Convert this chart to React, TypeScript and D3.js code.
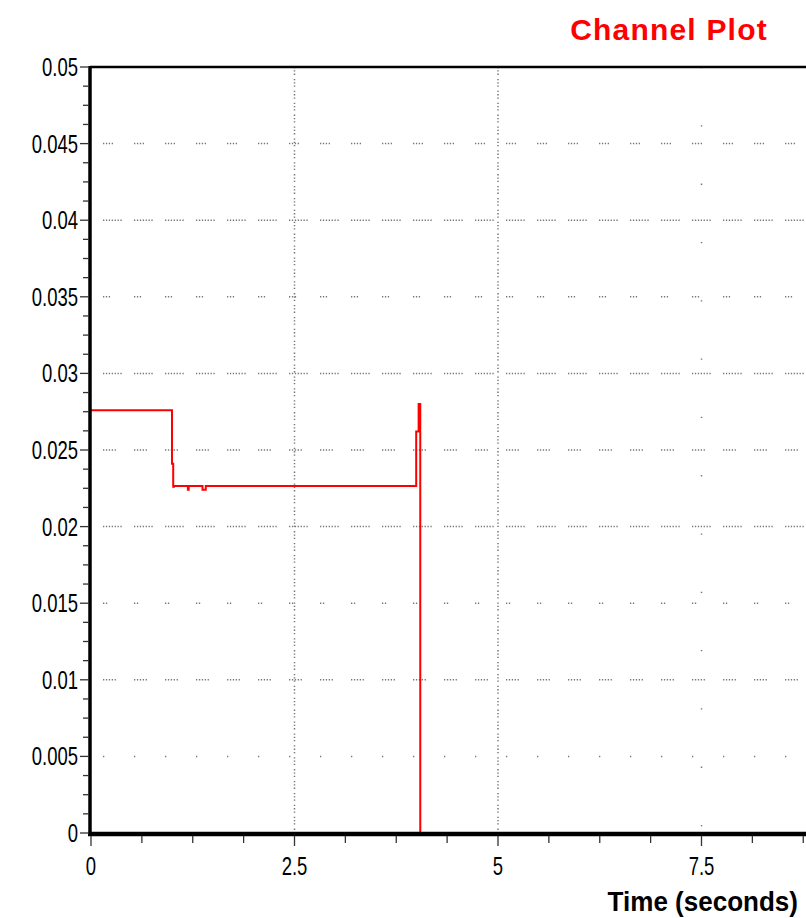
import React from 'react';
import * as d3 from 'd3';

// channel trace (step shaped)
const timeSec = [0, 0.995, 0.995, 1.01, 1.01, 1.02, 1.02, 1.19, 1.19, 1.2, 1.2, 1.37, 1.37, 1.41, 1.41, 3.995, 3.995, 4.025, 4.025, 4.045, 4.045];
const channelVal = [0.0276, 0.0276, 0.0241, 0.0241, 0.0226, 0.0226, 0.02265, 0.02265, 0.0224, 0.0224, 0.02265, 0.02265, 0.0224, 0.0224, 0.02265, 0.02265, 0.0262, 0.0262, 0.028, 0.028, 0];

const yTicks = [0, 0.005, 0.01, 0.015, 0.02, 0.025, 0.03, 0.035, 0.04, 0.045, 0.05];
const yTickLabels = ['0', '0.005', '0.01', '0.015', '0.02', '0.025', '0.03', '0.035', '0.04', '0.045', '0.05'];
const xTicks = [0, 2.5, 5, 7.5];
const xTickLabels = ['0', '2.5', '5', '7.5'];
// dots per dash group on each horizontal grid line (the scaled-up dotted pen)
const gridDots = [0, 1, 5, 2, 7, 5, 7, 3, 7, 4, 0];

const W = 806;
const H = 918;

const dotDash = (n: number, period = 31) => {
  const parts: number[] = [];
  for (let i = 0; i < n; i++) {
    parts.push(1.3);
    parts.push(i < n - 1 ? 1.6 : period - n * 1.3 - (n - 1) * 1.6);
  }
  return parts.join(',');
};

const font = '"Liberation Sans", Arial, sans-serif';

// narrow text: the original face is a condensed sans
const NarrowText = ({ x, y, anchor, size, weight = 'normal', sx = 0.82, children }:
  { x: number; y: number; anchor: string; size: number; weight?: string; sx?: number; children: React.ReactNode }) => (
  <text transform={`translate(${x},${y}) scale(${sx},1)`} textAnchor={anchor} fill="#000"
    style={{ font: `${weight} ${size}px ${font}` }}>{children}</text>
);

const App = () => {
  const x = d3.scaleLinear().domain([0, 10]).range([91, 905]);
  const y = d3.scaleLinear().domain([0, 0.05]).range([833, 67]);

  const line = d3.line<number>()
    .x((_, i) => x(timeSec[i]))
    .y(d => y(d));

  const yMinor = d3.range(0, 0.05 + 1e-9, 0.00125).filter((_, i) => i % 4 !== 0);
  const xMinor = d3.range(0, 10.001, 0.625).filter((_, i) => i % 4 !== 0);

  return (
    <div style={{ position: 'absolute', left: 0, top: 0 }}>
      <svg width={W} height={H} style={{ display: 'block', background: '#fff' }}>
        <text x={669} y={40} textAnchor="middle" fill="#ff0000" letterSpacing={1.2}
          style={{ font: 'bold 30px "Liberation Sans", Arial, sans-serif' }}>Channel Plot</text>

        {/* horizontal grid */}
        {yTicks.map((t, i) => (gridDots[i] > 0 ?
          <line key={'hg' + i} x1={x(0) + 12} x2={W} y1={y(t)} y2={y(t)}
            stroke="#777" strokeWidth={1.5} strokeDasharray={dotDash(gridDots[i])} /> : null))}

        {/* vertical grid */}
        {xTicks.slice(1).map((t, i) => (
          <line key={'vg' + i} x1={x(t)} x2={x(t)} y1={y(0.05)} y2={y(0)}
            stroke="#777" strokeWidth={1.5}
            strokeDasharray={t === 7.5 ? '1.3,57' : '1.3,2,1.3,2,1.3,4'} />
        ))}

        {/* trace */}
        <path d={line(channelVal) || ''} fill="none" stroke="#ff0000" strokeWidth={2} />

        {/* frame */}
        <line x1={x(0) - 1} x2={W} y1={y(0.05)} y2={y(0.05)} stroke="#000" strokeWidth={2.5} />
        <line x1={x(0) - 1} x2={x(0) - 1} y1={y(0.05) - 1} y2={y(0) + 2} stroke="#000" strokeWidth={3.5} />
        <line x1={x(0) - 3} x2={W} y1={y(0) + 1} y2={y(0) + 1} stroke="#000" strokeWidth={4.5} />

        {/* y axis ticks */}
        {yTicks.map((t, i) => (
          <g key={'yt' + i}>
            <line x1={80} x2={89} y1={y(t)} y2={y(t)} stroke="#333" strokeWidth={1.3} />
            <NarrowText x={78} y={y(t) + 9} anchor="end" size={25} sx={0.74}>{yTickLabels[i]}</NarrowText>
          </g>
        ))}
        {yMinor.map((t, i) => (
          <line key={'ym' + i} x1={83} x2={89} y1={y(t)} y2={y(t)} stroke="#333" strokeWidth={1.3} />
        ))}

        {/* x axis ticks */}
        {xTicks.map((t, i) => (
          <g key={'xt' + i}>
            <line x1={x(t)} x2={x(t)} y1={836} y2={846} stroke="#333" strokeWidth={1.3} />
            <NarrowText x={x(t)} y={875} anchor="middle" size={25} sx={0.74}>{xTickLabels[i]}</NarrowText>
          </g>
        ))}
        {xMinor.map((t, i) => (
          <line key={'xm' + i} x1={x(t)} x2={x(t)} y1={836} y2={843} stroke="#333" strokeWidth={1.3} />
        ))}

        <NarrowText x={798} y={911} anchor="end" size={28} weight="bold" sx={0.93}>Time (seconds)</NarrowText>
      </svg>
    </div>
  );
};

export default App;
